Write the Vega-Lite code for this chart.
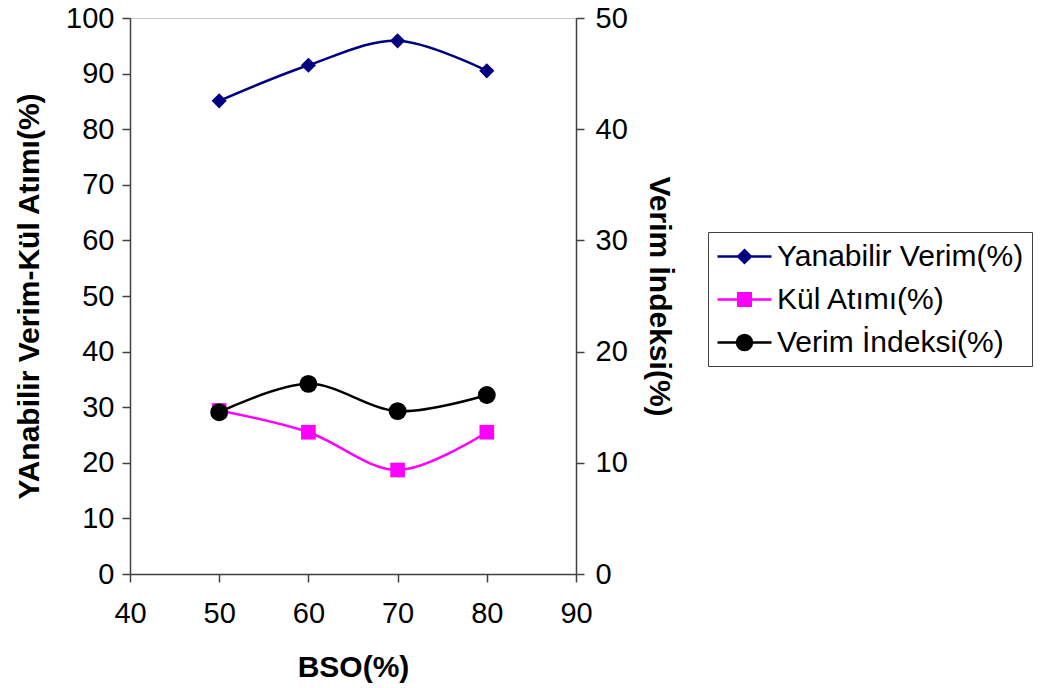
{
  "$schema": "https://vega.github.io/schema/vega-lite/v6.json",
  "width": 446,
  "height": 556,
  "autosize": "none",
  "padding": {"left": 130, "top": 18, "right": 476, "bottom": 114},
  "background": "white",
  "config": {
    "view": {"stroke": "#c8c8c8", "strokeWidth": 1},
    "font": "Liberation Sans",
    "axis": {
      "grid": false,
      "labelFont": "Liberation Sans",
      "labelFontSize": 29,
      "labelColor": "#000000",
      "titleFont": "Liberation Sans",
      "titleFontSize": 30,
      "titleFontWeight": "bold",
      "titleColor": "#000000",
      "domainColor": "#404040",
      "domainWidth": 1.5,
      "tickColor": "#404040",
      "tickWidth": 1.5,
      "tickSize": 8
    }
  },
  "datasets": {
    "sol": [
      {"BSO": 50, "seri": "Yanabilir Verim(%)", "deger": 85.1},
      {"BSO": 60, "seri": "Yanabilir Verim(%)", "deger": 91.5},
      {"BSO": 70, "seri": "Yanabilir Verim(%)", "deger": 95.9},
      {"BSO": 80, "seri": "Yanabilir Verim(%)", "deger": 90.5},
      {"BSO": 50, "seri": "Kül Atımı(%)", "deger": 29.4},
      {"BSO": 60, "seri": "Kül Atımı(%)", "deger": 25.5},
      {"BSO": 70, "seri": "Kül Atımı(%)", "deger": 18.7},
      {"BSO": 80, "seri": "Kül Atımı(%)", "deger": 25.5}
    ],
    "sag": [
      {"BSO": 50, "seri": "Verim İndeksi(%)", "deger": 14.55},
      {"BSO": 60, "seri": "Verim İndeksi(%)", "deger": 17.1},
      {"BSO": 70, "seri": "Verim İndeksi(%)", "deger": 14.65},
      {"BSO": 80, "seri": "Verim İndeksi(%)", "deger": 16.1}
    ]
  },
  "layer": [
    {
      "data": {"name": "sol"},
      "encoding": {
        "x": {
          "field": "BSO", "type": "quantitative",
          "scale": {"domain": [40, 90], "nice": false, "zero": false},
          "axis": {"values": [40, 50, 60, 70, 80, 90], "title": "BSO(%)", "labelPadding": 17, "titlePadding": 24, "labelFlush": false}
        },
        "y": {
          "field": "deger", "type": "quantitative",
          "scale": {"domain": [0, 100], "nice": false},
          "axis": {"orient": "left", "values": [0, 10, 20, 30, 40, 50, 60, 70, 80, 90, 100], "title": "YAnabilir Verim-Kül Atımı(%)", "labelPadding": 8, "titlePadding": 21, "labelFlush": false}
        },
        "color": {
          "field": "seri", "type": "nominal",
          "scale": {"domain": ["Yanabilir Verim(%)", "Kül Atımı(%)", "Verim İndeksi(%)"], "range": ["#000080", "#ff00ff", "#000000"]},
          "legend": {
            "title": null,
            "orient": "none",
            "legendX": 578,
            "legendY": 214,
            "padding": 8,
            "strokeColor": "#404040",
            "fillColor": "#ffffff",
            "labelFont": "Liberation Sans",
            "labelFontSize": 30,
            "labelColor": "#000000",
            "labelLimit": 400,
            "symbolSize": 900,
            "symbolOffset": 12,
            "labelOffset": 16,
            "rowPadding": 11,
            "encode": {
              "symbols": {
                "update": {
                  "shape": {"signal": "datum.value === 'Yanabilir Verim(%)' ? 'M-1.8,0H1.8M0,-0.42L0.42,0L0,0.42L-0.42,0Z' : datum.value === 'Kül Atımı(%)' ? 'M-1.8,0H1.8M-0.42,-0.42H0.42V0.42H-0.42Z' : 'M-1.8,0H1.8M0.5,0A0.5,0.5,0,1,1,-0.5,0A0.5,0.5,0,1,1,0.5,0Z'"},
                  "size": {"value": 900},
                  "fill": {"signal": "datum.value === 'Yanabilir Verim(%)' ? '#000080' : datum.value === 'Kül Atımı(%)' ? '#ff00ff' : '#000000'"},
                  "stroke": {"signal": "datum.value === 'Yanabilir Verim(%)' ? '#000080' : datum.value === 'Kül Atımı(%)' ? '#ff00ff' : '#000000'"},
                  "strokeWidth": {"value": 2.5},
                  "opacity": {"value": 1},
                  "strokeOpacity": {"value": 1},
                  "fillOpacity": {"value": 1}
                }
              }
            }
          }
        }
      },
      "layer": [
        {"mark": {"type": "line", "interpolate": "cardinal", "strokeWidth": 2.5}},
        {
          "transform": [{"filter": "datum.seri === 'Yanabilir Verim(%)'"}],
          "mark": {"type": "point", "shape": "diamond", "size": 230, "filled": true, "opacity": 1}
        },
        {
          "transform": [{"filter": "datum.seri === 'Kül Atımı(%)'"}],
          "mark": {"type": "point", "shape": "square", "size": 215, "filled": true, "opacity": 1}
        }
      ]
    },
    {
      "data": {"name": "sag"},
      "encoding": {
        "x": {"field": "BSO", "type": "quantitative"},
        "y": {
          "field": "deger", "type": "quantitative",
          "scale": {"domain": [0, 50], "nice": false},
          "axis": {"orient": "right", "values": [0, 10, 20, 30, 40, 50], "title": "Verim İndeksi(%)", "labelPadding": 11, "titlePadding": 16, "labelFlush": false}
        },
        "color": {"field": "seri", "type": "nominal"}
      },
      "layer": [
        {"mark": {"type": "line", "interpolate": "cardinal", "strokeWidth": 2.5}},
        {"mark": {"type": "point", "shape": "circle", "size": 320, "filled": true, "opacity": 1}}
      ]
    }
  ],
  "resolve": {"scale": {"y": "independent"}, "axis": {"y": "independent"}}
}
